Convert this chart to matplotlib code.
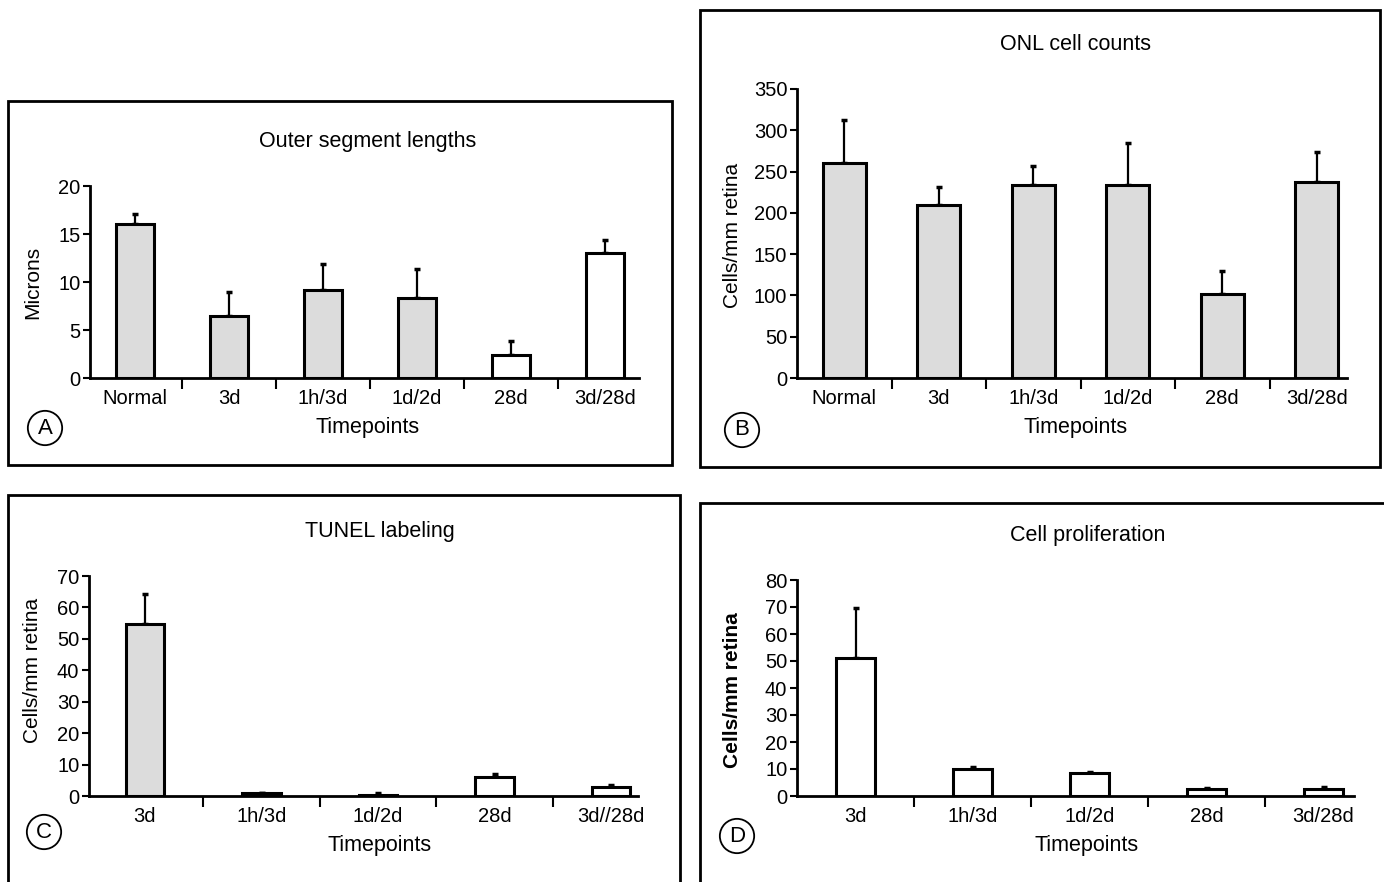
import matplotlib
matplotlib.use("Agg")
import matplotlib.pyplot as plt
from matplotlib.patches import Rectangle
import numpy as np

plt.rcParams['font.family'] = ['Liberation Sans', 'DejaVu Sans']

# Panel A: outer segment lengths
a_labels = ["Normal", "3d", "1h/3d", "1d/2d", "28d", "3d/28d"]
a_values = [16.0, 6.5, 9.2, 8.3, 2.4, 13.0]
a_tops = [17.05, 9.0, 11.85, 11.4, 3.9, 14.35]
a_fill = ["#dcdcdc", "#dcdcdc", "#dcdcdc", "#dcdcdc", "white", "white"]

# Panel B: ONL cell counts
b_labels = ["Normal", "3d", "1h/3d", "1d/2d", "28d", "3d/28d"]
b_values = [260, 209, 234, 234, 102, 237]
b_tops = [312, 231, 257, 284, 130, 274]
b_fill = ["#dcdcdc"] * 6

# Panel C: TUNEL labeling
c_labels = ["3d", "1h/3d", "1d/2d", "28d", "3d//28d"]
c_values = [54.8, 0.8, 0.2, 6.2, 2.9]
c_tops = [64.2, 1.0, 0.9, 7.1, 3.4]
c_fill = ["#dcdcdc", "#333333", "white", "white", "white"]

# Panel D: cell proliferation
d_labels = ["3d", "1h/3d", "1d/2d", "28d", "3d/28d"]
d_values = [51, 10.1, 8.4, 2.6, 2.7]
d_tops = [69.5, 10.6, 8.8, 3.0, 3.2]
d_fill = ["white"] * 5

W, H = 1384, 882
fig = plt.figure(figsize=(W / 100, H / 100), dpi=100)


def fx(x):
    return x / W


def fy(y):
    return 1 - y / H


def frame(x0, y0, x1, y1):
    fig.patches.append(Rectangle((fx(x0), fy(y1)), fx(x1 - x0), (y1 - y0) / H,
                                 transform=fig.transFigure, fill=False,
                                 edgecolor="black", linewidth=2))


def panel(rect, labels, values, tops, fills, ymax, ystep, xlim, width,
          title, ylabel, letter, bold_ylabel=False):
    x0, y0, x1, y1, = rect["axes"]
    ax = fig.add_axes([fx(x0), fy(y1), fx(x1 - x0), (y1 - y0) / H])
    n = len(labels)
    x = np.arange(n)
    ax.bar(x, values, width=width, color=fills, edgecolor="black",
           linewidth=2.2, zorder=2)
    err = [t - v for t, v in zip(tops, values)]
    ax.errorbar(x, values, yerr=[[0] * n, err], fmt="none", ecolor="black",
                elinewidth=1.6, capsize=2.5, capthick=2.5, zorder=1)
    ax.set_xlim(*xlim)
    ax.set_ylim(0, ymax)
    ax.set_yticks(np.arange(0, ymax + 1, ystep))
    ax.set_xticks(x)
    ax.set_xticklabels(labels, fontsize=14.5)
    ax.set_xticks(np.arange(n - 1) + 0.5, minor=True)
    ax.tick_params(axis="x", which="major", length=0, pad=8)
    ax.tick_params(axis="x", which="minor", length=8, width=1.5, direction="out")
    ax.tick_params(axis="y", length=5, width=1.5, direction="out", labelsize=14.5, pad=2)
    for s in ["top", "right"]:
        ax.spines[s].set_visible(False)
    for s in ["left", "bottom"]:
        ax.spines[s].set_linewidth(2)
    ax.patch.set_alpha(0)

    tx, ty = rect["title"]
    fig.text(fx(tx), fy(ty), title, ha="center", va="center", fontsize=15.5)
    lx, ly = rect["xlabel"]
    fig.text(fx(lx), fy(ly), "Timepoints", ha="center", va="center", fontsize=15.5)
    yx, yy = rect["ylabel"]
    fig.text(fx(yx), fy(yy), ylabel, ha="center", va="center", fontsize=15,
             rotation=90, fontweight="bold" if bold_ylabel else "normal")
    cx, cy = rect["letter"]
    fig.text(fx(cx), fy(cy), letter, ha="center", va="center", fontsize=16,
             bbox=dict(boxstyle="circle,pad=0.3", facecolor="white",
                       edgecolor="black", linewidth=1.3))
    return ax


frame(8, 101, 672, 465)
frame(700, 10, 1380, 467)
frame(8, 495, 680, 900)
frame(700, 503, 1400, 900)

panel({"axes": (90, 186, 639, 378), "title": (368, 142), "xlabel": (368, 428),
       "ylabel": (33, 282), "letter": (45, 428)},
      a_labels, a_values, a_tops, a_fill, 20, 5, (-0.48, 5.36), 0.4,
      "Outer segment lengths", "Microns", "A")

panel({"axes": (797, 89, 1347, 378), "title": (1076, 44), "xlabel": (1076, 428),
       "ylabel": (732, 235), "letter": (742, 430)},
      b_labels, b_values, b_tops, b_fill, 350, 50, (-0.5, 5.32), 0.45,
      "ONL cell counts", "Cells/mm retina", "B")

panel({"axes": (89, 576, 638, 796), "title": (380, 531), "xlabel": (380, 846),
       "ylabel": (33, 670), "letter": (44, 832)},
      c_labels, c_values, c_tops, c_fill, 70, 10, (-0.48, 4.23), 0.33,
      "TUNEL labeling", "Cells/mm retina", "C")

panel({"axes": (797, 580, 1354, 796), "title": (1088, 536), "xlabel": (1087, 846),
       "ylabel": (733, 690), "letter": (737, 836)},
      d_labels, d_values, d_tops, d_fill, 80, 10, (-0.5, 4.26), 0.33,
      "Cell proliferation", "Cells/mm retina", "D", bold_ylabel=True)

fig.savefig("out.png", dpi=100)
